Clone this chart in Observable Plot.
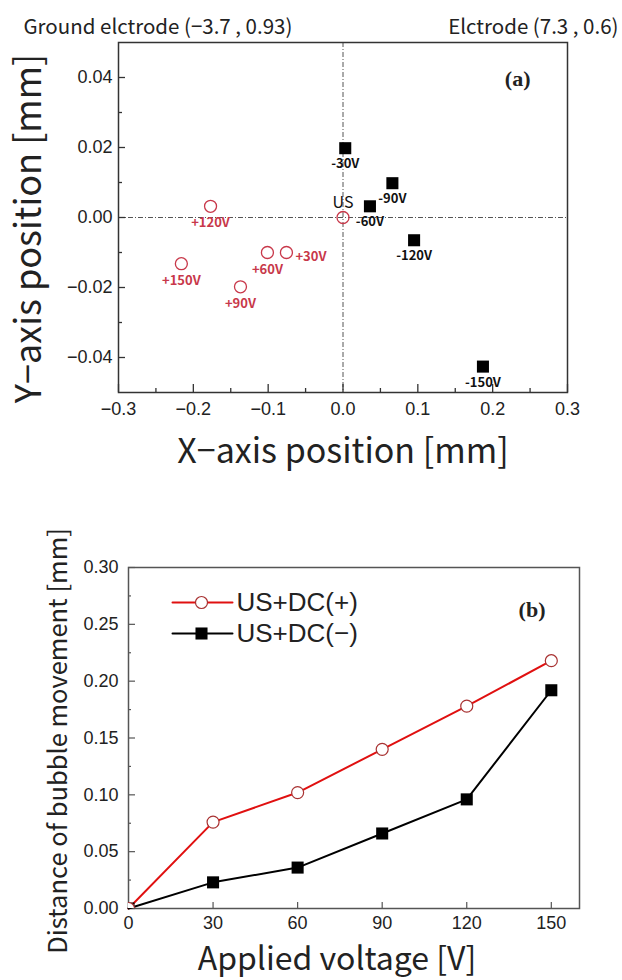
<!DOCTYPE html>
<html><head><meta charset="utf-8">
<script src="https://cdn.jsdelivr.net/npm/d3@7"></script>
<script src="https://cdn.jsdelivr.net/npm/@observablehq/plot@0.6"></script>
<style>
body{margin:0;background:#fff;}
#chart{width:622px;}
#chart svg{display:block;}
</style></head><body><div id="chart"></div>
<script>
// ---------- Panel (a) data ----------
const posLabels = ["+30V", "+60V", "+90V", "+120V", "+150V"];
const posX = [-0.0756, -0.101, -0.137, -0.177, -0.216];
const posY = [-0.0100, -0.0100, -0.0198, 0.0032, -0.0132];
const negLabels = ["-30V", "-60V", "-90V", "-120V", "-150V"];
const negX = [0.003, 0.036, 0.066, 0.095, 0.187];
const negY = [0.0198, 0.0032, 0.0098, -0.0065, -0.0426];
const usLabel = ["US"];
const usX = [0];
const usY = [0];
const xTicksA = [-0.3, -0.2, -0.1, 0, 0.1, 0.2, 0.3];
const xMinorA = [-0.25, -0.15, -0.05, 0.05, 0.15, 0.25];
const yTicksA = [-0.04, -0.02, 0, 0.02, 0.04];
const yMinorA = [-0.03, -0.01, 0.01, 0.03];
const noteLeft = ["Ground elctrode (\u22123.7 , 0.93)"];
const noteRight = ["Elctrode (7.3 , 0.6)"];

// ---------- Panel (b) data ----------
const voltage = [0, 30, 60, 90, 120, 150];
const distPos = [0, 0.076, 0.102, 0.140, 0.178, 0.218];
const distNeg = [0, 0.023, 0.036, 0.066, 0.096, 0.192];
const seriesNames = ["US+DC(+)", "US+DC(\u2212)"];
const xTicksB = [0, 30, 60, 90, 120, 150];
const yTicksB = [0, 0.05, 0.10, 0.15, 0.20, 0.25, 0.30];
const yMinorB = [0.025, 0.075, 0.125, 0.175, 0.225, 0.275];

const FONT = "'Noto Sans CJK JP', 'Noto Sans', sans-serif";
const SANS = "'Liberation Sans', Arial, sans-serif";
const SERIF = "'Liberation Serif', 'DejaVu Serif', serif";
const RED_A = "#c8384a";
const RED_LINE = "#e01010";
const RED_MARK = "#a83232";
const lineShape = {draw(context, l) { context.moveTo(0, 0); context.lineTo(0, -l); }};

const posData = posLabels.map((label, i) => ({label, x: posX[i], y: posY[i]}));
const negData = negLabels.map((label, i) => ({label, x: negX[i], y: negY[i]}));
const usData = usLabel.map((label, i) => ({label, x: usX[i], y: usY[i]}));

// layout
const W = 622, HA = 490, HB = 490;
const MA = {top: 42, bottom: 98, left: 118, right: 55};
const MB = {top: 77, bottom: 72, left: 128, right: 43};
const FWA = W - MA.left - MA.right, FHA = HA - MA.top - MA.bottom;
const FWB = W - MB.left - MB.right, FHB = HB - MB.top - MB.bottom;

// inward ticks along the bottom and left edges of the frame
const inTickX = (ticks, fh, len, stroke, sw) =>
  Plot.tickX(ticks, {x: d => d, insetTop: fh - len, stroke, strokeWidth: sw});
const inTickY = (ticks, fw, len, stroke, sw) =>
  Plot.tickY(ticks, {y: d => d, insetRight: fw - len, stroke, strokeWidth: sw});

const plotA = Plot.plot({
  width: W, height: HA,
  marginTop: MA.top, marginBottom: MA.bottom, marginLeft: MA.left, marginRight: MA.right,
  style: {fontFamily: FONT, background: "white", color: "#222"},
  x: {domain: [-0.3, 0.3]},
  y: {domain: [-0.05, 0.05]},
  marks: [
    Plot.ruleY([0], {stroke: "#555", strokeWidth: 1, strokeDasharray: "5,2,1,2"}),
    Plot.ruleX([0], {stroke: "#555", strokeWidth: 1, strokeDasharray: "5,2,1,2"}),
    inTickX(xTicksA, FHA, 8, "#333", 1.3),
    inTickX(xMinorA, FHA, 4, "#333", 1.3),
    inTickY(yTicksA, FWA, 7, "#333", 1.3),
    inTickY(yMinorA, FWA, 4, "#333", 1.3),
    Plot.frame({stroke: "#333", strokeWidth: 1.5}),
    Plot.axisX(xTicksA, {anchor: "bottom", tickSize: 0, tickPadding: 10, tickFormat: d3.format(".1f"), fontSize: 18, fontFamily: SANS, label: null}),
    Plot.axisY(yTicksA, {anchor: "left", tickSize: 0, tickPadding: 6, tickFormat: d3.format(".2f"), fontSize: 18, fontFamily: SANS, label: null}),
    Plot.dot(posData, {x: "x", y: "y", r: 6, stroke: RED_A, strokeWidth: 1.3, fill: "none"}),
    Plot.dot(usData, {x: "x", y: "y", r: 6, stroke: RED_A, strokeWidth: 1.3, fill: "none"}),
    Plot.dot(negData, {x: "x", y: "y", symbol: "square", r: 6.8, fill: "black"}),
    Plot.text(posData.filter(d => d.label !== "+30V"), {x: "x", y: "y", text: "label", dy: 17, fill: RED_A, fontSize: 13, fontWeight: "bold"}),
    Plot.text(posData.filter(d => d.label === "+30V"), {x: "x", y: "y", text: "label", dx: 9, dy: 4, textAnchor: "start", fill: RED_A, fontSize: 13, fontWeight: "bold"}),
    Plot.text(negData, {x: "x", y: "y", text: "label", dy: 16, fill: "#111", fontSize: 13, fontWeight: "bold"}),
    Plot.text(usData, {x: "x", y: "y", text: "label", dy: -15, fill: "#111", fontSize: 16}),
    Plot.text(noteLeft, {text: d => d, frameAnchor: "top-left", dx: -95, dy: -15, textAnchor: "start", lineAnchor: "middle", fontSize: 20.5}),
    Plot.text(noteRight, {text: d => d, frameAnchor: "top-right", dx: 51, dy: -15, textAnchor: "end", lineAnchor: "middle", fontSize: 20.5}),
    Plot.text(["(a)"], {text: d => d, frameAnchor: "top-right", dx: -37, dy: 36, textAnchor: "end", lineAnchor: "middle", fontSize: 22, fontWeight: "bold", fontFamily: SERIF}),
    Plot.text(["X\u2212axis position [mm]"], {text: d => d, frameAnchor: "bottom", dy: 60, textAnchor: "middle", lineAnchor: "middle", fontSize: 34}),
    Plot.text(["Y\u2212axis position [mm]"], {text: d => d, frameAnchor: "left", dx: -89, dy: 11, rotate: -90, textAnchor: "middle", lineAnchor: "middle", fontSize: 36})
  ]
});

const plotB = Plot.plot({
  width: W, height: HB,
  marginTop: MB.top, marginBottom: MB.bottom, marginLeft: MB.left, marginRight: MB.right,
  style: {fontFamily: FONT, background: "white", color: "#222"},
  x: {domain: [0, 160]},
  y: {domain: [0, 0.30]},
  marks: [
    inTickX(xTicksB, FHB, 6, "#555", 1.2),
    inTickY(yTicksB, FWB, 7, "#555", 1.2),
    inTickY(yMinorB, FWB, 3, "#555", 1.2),
    Plot.frame({stroke: "#555", strokeWidth: 1.5}),
    Plot.axisX(xTicksB, {anchor: "bottom", tickSize: 0, tickPadding: 8, tickFormat: d3.format("d"), fontSize: 18, fontFamily: SANS, label: null}),
    Plot.axisY(yTicksB, {anchor: "left", tickSize: 0, tickPadding: 10, tickFormat: d3.format(".2f"), fontSize: 18, fontFamily: SANS, label: null}),
    Plot.line(voltage, {x: d => d, y: (d, i) => distPos[i], stroke: RED_LINE, strokeWidth: 2}),
    Plot.line(voltage, {x: d => d, y: (d, i) => distNeg[i], stroke: "black", strokeWidth: 2}),
    Plot.dot(voltage, {x: d => d, y: (d, i) => distNeg[i], symbol: "square", r: 6.8, fill: "black", clip: true}),
    Plot.dot(voltage, {x: d => d, y: (d, i) => distPos[i], r: 6, fill: "white", stroke: RED_MARK, strokeWidth: 1.2, clip: true}),
    // legend
    Plot.vector([seriesNames[0]], {frameAnchor: "top-left", dx: 44, dy: 35, length: 60, rotate: 90, anchor: "start", shape: lineShape, stroke: RED_LINE, strokeWidth: 2}),
    Plot.dot([seriesNames[0]], {frameAnchor: "top-left", dx: 73, dy: 35, r: 6, fill: "white", stroke: RED_MARK, strokeWidth: 1.2}),
    Plot.vector([seriesNames[1]], {frameAnchor: "top-left", dx: 44, dy: 66, length: 60, rotate: 90, anchor: "start", shape: lineShape, stroke: "black", strokeWidth: 2}),
    Plot.dot([seriesNames[1]], {frameAnchor: "top-left", dx: 73, dy: 66, symbol: "square", r: 6.8, fill: "black"}),
    Plot.text([seriesNames[0]], {text: d => d, frameAnchor: "top-left", dx: 108, dy: 35, textAnchor: "start", lineAnchor: "middle", fontSize: 26, fontFamily: SANS}),
    Plot.text([seriesNames[1]], {text: d => d, frameAnchor: "top-left", dx: 108, dy: 66, textAnchor: "start", lineAnchor: "middle", fontSize: 26, fontFamily: SANS}),
    Plot.text(["(b)"], {text: d => d, frameAnchor: "top-right", dx: -34, dy: 42, textAnchor: "end", lineAnchor: "middle", fontSize: 22, fontWeight: "bold", fontFamily: SERIF}),
    Plot.text(["Applied voltage [V]"], {text: d => d, frameAnchor: "bottom", dx: -17, dy: 51, textAnchor: "middle", lineAnchor: "middle", fontSize: 32}),
    Plot.text(["Distance of bubble movement [mm]"], {text: d => d, frameAnchor: "left", dx: -70, dy: 3, rotate: -90, textAnchor: "middle", lineAnchor: "middle", fontSize: 25.5})
  ]
});

const root = document.getElementById("chart");
root.appendChild(plotA);
root.appendChild(plotB);
</script>
</body></html>
